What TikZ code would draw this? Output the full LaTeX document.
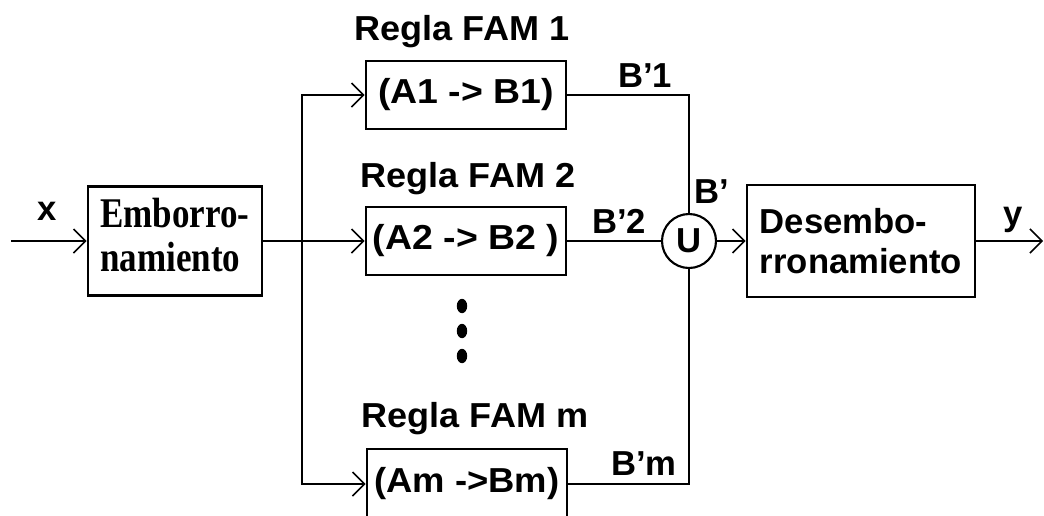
\documentclass[tikz,border=0pt]{standalone}
\usepackage{fontspec}
\setmainfont{Liberation Sans}
\newfontfamily\serifbold{Liberation Serif}
\usetikzlibrary{arrows.meta}
\begin{document}
\begin{tikzpicture}[x=0.75pt,y=-0.75pt,
  line width=2.2pt,
  >={Straight Barb[length=9pt,width=18pt,line width=1.1pt]},
  txt/.style={font=\bfseries\fontsize{26}{30}\selectfont},
  blk/.style={draw, line width=2.2pt, inner sep=0pt, txt},
  rulebox/.style={blk, minimum width=150pt, minimum height=51pt},
  lbl/.style={txt, inner sep=0pt, anchor=base},
  dotmark/.style={fill=black},
]
\useasboundingbox (0,0) rectangle (1044,515);

% blocks
\node[blk, minimum width=130.5pt, minimum height=81.75pt, align=left] (emb) at (175,241)
  {\scalebox{1.01}[1.22]{\serifbold\bfseries\fontsize{26}{27}\selectfont\begin{tabular}{@{}l@{}}Emborro-\\namiento\end{tabular}}};
\node[blk, minimum width=171pt, minimum height=84pt, align=left] (des) at (861,241)
  {\fontsize{26}{34}\selectfont Desembo-\\rronamiento};

\node[rulebox] (r1) at (466,95) {\scalebox{1.08}[1]{(A1 -> B1)}};
\node[rulebox] (r2) at (466,241) {\scalebox{1.08}[1]{(A2 -> B2 )}};
\node[rulebox, minimum height=52.5pt] (rm) at (467,484) {\scalebox{1.05}[1]{(Am ->Bm)}};

\node[circle, draw, line width=1.6pt, minimum size=40.5pt, inner sep=0pt, txt] (U) at (689,241) {U};

% rule titles
\node[lbl] (t1) at (462,40) {\scalebox{1.04}[1]{Regla FAM 1}};
\node[lbl] (t2) at (468,187) {\scalebox{1.04}[1]{Regla FAM 2}};
\node[lbl] (tm) at (475,427) {\scalebox{1.04}[1]{Regla FAM m}};

% dots
\fill[dotmark] (462,306) ellipse [x radius=3.9pt, y radius=5.4pt];
\fill[dotmark] (462,331) ellipse [x radius=3.9pt, y radius=5.4pt];
\fill[dotmark] (462,356) ellipse [x radius=3.9pt, y radius=5.4pt];

% signal labels
\node[lbl] (lx) at (47,220) {x};
\node[lbl] (ly) at (1013,225) {y};
\node[lbl] (lb) at (712,203) {B’};
\node[lbl] (lb1) at (645,87) {B’1};
\node[lbl] (lb2) at (619,233) {B’2};
\node[lbl] (lbm) at (644,475) {B’m};

% coordinates
\coordinate (in) at (11,241);
\coordinate (j) at (302,241);
\coordinate (out) at (1043,241);

% connectors
\draw[->] (in) -- (emb.west);
\draw (emb.east) -- (j);
\draw[->] (j) -- (r2.west);
\draw[->] (j) |- (r1.west);
\draw[->] (j) |- (rm.west);
\draw (r1.east) -| (U.north);
\draw (rm.east) -| (U.south);
\draw (r2.east) -- (U.west);
\draw[->] (U.east) -- (des.west);
\draw[->] (des.east) -- (out);
\end{tikzpicture}
\end{document}
